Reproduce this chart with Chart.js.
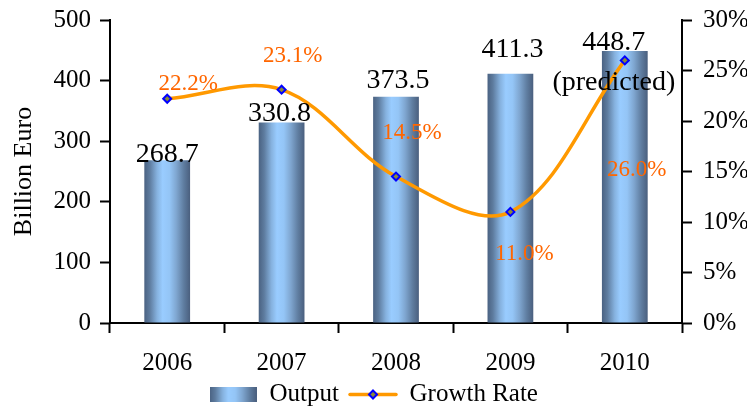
<!DOCTYPE html>
<html>
<head>
<meta charset="utf-8">
<script src="https://cdn.jsdelivr.net/npm/chart.js@4"></script>
<style>
  html, body { margin: 0; padding: 0; background: #fff; }
  #wrap { width: 747px; height: 411px; }
</style>
</head>
<body>
<div id="wrap"><canvas id="chart"></canvas></div>
<script>
const years = ['2006', '2007', '2008', '2009', '2010'];
const output = [268.7, 330.8, 373.5, 411.3, 448.7];
const growthRate = [22.2, 23.1, 14.5, 11.0, 26.0];
const outputTicks = [0, 100, 200, 300, 400, 500];
const growthTicks = [0, 5, 10, 15, 20, 25, 30];
const barNotes = ['', '', '', '', '(predicted)'];

// labels were dragged around by hand in the original, so nudge them (px from the mark)
const outputLabelNudge = [[0, 2], [-2, -2], [2, -9], [2, -17], [-11, -1]];
const growthLabelNudge = [[21, -9], [11, -28], [16, -38], [14, 48], [12, 116]];

const serif = "'Liberation Serif', 'Times New Roman', serif";
const lineColor = '#ff9900';
const labelOrange = '#ff6600';
const markerFill = '#8a8a3a';
const markerEdge = '#0000ff';
const barStops = [
  [0, '#4a6282'], [0.12, '#5e7c9f'], [0.28, '#86b2df'], [0.4, '#99ccff'],
  [0.55, '#94c5f6'], [0.7, '#7fa6d0'], [0.86, '#5f7da0'], [1, '#4a5f7e']
];

function barGradient(g, x0, x1) {
  const grad = g.createLinearGradient(x0, 0, x1, 0);
  barStops.forEach(([p, c]) => grad.addColorStop(p, c));
  return grad;
}

// legend swatches
function barSwatch() {
  const c = document.createElement('canvas');
  c.width = 47; c.height = 15;
  const g = c.getContext('2d');
  g.fillStyle = barGradient(g, 0, 47);
  g.fillRect(0, 0, 47, 15);
  return c;
}
function lineSwatch() {
  const c = document.createElement('canvas');
  c.width = 50; c.height = 15;
  const g = c.getContext('2d');
  g.strokeStyle = lineColor; g.lineWidth = 3.5; g.lineCap = 'round';
  g.beginPath(); g.moveTo(2, 7.5); g.lineTo(48, 7.5); g.stroke();
  g.beginPath();
  g.moveTo(25, 3.5); g.lineTo(29, 7.5); g.lineTo(25, 11.5); g.lineTo(21, 7.5);
  g.closePath();
  g.fillStyle = markerFill; g.fill();
  g.strokeStyle = markerEdge; g.lineWidth = 2; g.stroke();
  return c;
}
const swatches = [barSwatch(), lineSwatch()];

const valueLabels = {
  id: 'valueLabels',
  afterDatasetsDraw(chart) {
    const ctx = chart.ctx;
    const bars = chart.getDatasetMeta(0).data;
    const pts = chart.getDatasetMeta(1).data;
    ctx.save();
    ctx.textAlign = 'center';
    ctx.textBaseline = 'alphabetic';
    ctx.font = '28px ' + serif;
    ctx.fillStyle = '#000';
    bars.forEach((bar, i) => {
      const [dx, dy] = outputLabelNudge[i];
      ctx.fillText(output[i].toFixed(1), bar.x + dx, bar.y + dy);
      if (barNotes[i]) ctx.fillText(barNotes[i], bar.x + dx, bar.y + dy + 40);
    });
    ctx.font = '23px ' + serif;
    ctx.fillStyle = labelOrange;
    pts.forEach((pt, i) => {
      const [dx, dy] = growthLabelNudge[i];
      ctx.fillText(growthRate[i].toFixed(1) + '%', pt.x + dx, pt.y + dy);
    });
    ctx.restore();
  }
};

const tickFont = { family: serif, size: 25 };

// keep the plot box where the original has it (tick label overhang shouldn't shrink it)
function fixVertical(width) {
  return (s) => { s.width = width; s.paddingTop = 0; s.paddingBottom = 0; };
}

new Chart(document.getElementById('chart'), {
  type: 'bar',
  data: {
    labels: years,
    datasets: [{
      type: 'bar',
      label: 'Output',
      data: output,
      yAxisID: 'y',
      order: 2,
      barPercentage: 0.4,
      categoryPercentage: 1.0,
      backgroundColor: (c) => {
        const chart = c.chart;
        if (c.type !== 'data' || !chart.chartArea) return '#8fbbe8';
        const x = chart.scales.x.getPixelForValue(c.dataIndex);
        const half = chart.chartArea.width / years.length * 0.4 / 2;
        return barGradient(chart.ctx, x - half, x + half);
      },
      borderWidth: 0
    }, {
      type: 'line',
      label: 'Growth Rate',
      data: growthRate,
      yAxisID: 'y1',
      order: 1,
      borderColor: lineColor,
      borderWidth: 3.5,
      tension: 0.35,
      pointStyle: 'rectRot',
      pointRadius: 4,
      pointBorderWidth: 2,
      pointBorderColor: markerEdge,
      pointBackgroundColor: markerFill,
      fill: false
    }]
  },
  options: {
    responsive: true,
    maintainAspectRatio: false,
    animation: false,
    layout: { padding: { top: 20, left: 0, right: 0, bottom: -6 } },
    plugins: {
      tooltip: { enabled: false },
      legend: {
        position: 'bottom',
        labels: {
          usePointStyle: true,
          pointStyleWidth: 48,
          padding: 10,
          color: '#000',
          font: { family: serif, size: 25 },
          generateLabels: (chart) => chart.data.datasets.map((ds, i) => ({
            text: ds.label,
            pointStyle: swatches[i],
            fillStyle: 'transparent',
            strokeStyle: 'transparent',
            lineWidth: 0,
            hidden: false,
            datasetIndex: i,
            fontColor: '#000'
          }))
        }
      }
    },
    scales: {
      x: {
        grid: { drawOnChartArea: false, offset: true, tickLength: 10, tickWidth: 2, tickColor: '#000' },
        border: { color: '#000', width: 2 },
        ticks: { font: tickFont, color: '#000', padding: 15, maxRotation: 0 },
        afterFit: (s) => { s.height = s.chart.height + 6 - s.chart.legend.height - 323; }
      },
      y: {
        position: 'left',
        min: outputTicks[0],
        max: outputTicks[outputTicks.length - 1],
        ticks: { stepSize: outputTicks[1] - outputTicks[0], font: tickFont, color: '#000', padding: 9 },
        grid: { drawOnChartArea: false, tickLength: 10, tickWidth: 2, tickColor: '#000' },
        border: { color: '#000', width: 2 },
        title: { display: true, text: 'Billion Euro', color: '#000', font: { family: serif, size: 26 }, padding: { top: 9, bottom: 0 } },
        afterFit: fixVertical(110)
      },
      y1: {
        position: 'right',
        min: growthTicks[0],
        max: growthTicks[growthTicks.length - 1],
        ticks: {
          stepSize: growthTicks[1] - growthTicks[0],
          font: tickFont, color: '#000', padding: 11,
          callback: (v) => v + '%'
        },
        grid: { drawOnChartArea: false, tickLength: 10, tickWidth: 2, tickColor: '#000' },
        border: { color: '#000', width: 2 },
        afterFit: fixVertical(65)
      }
    }
  },
  plugins: [valueLabels]
});
</script>
</body>
</html>
